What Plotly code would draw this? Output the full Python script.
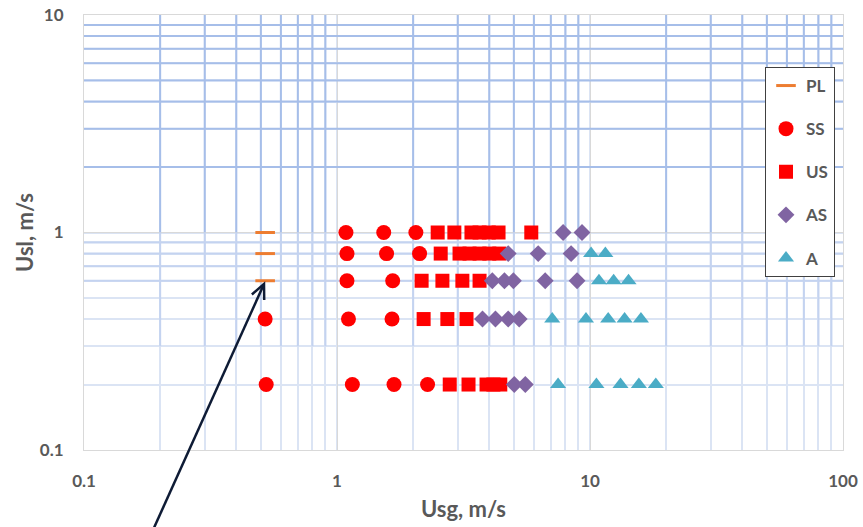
import plotly.graph_objects as go
import numpy as np

# ---------------- data ----------------
pl_x = [0.52, 0.52, 0.52]
pl_y = [1.0, 0.8, 0.6]

ss_x = [1.085, 1.53, 2.05, 1.095, 1.57, 2.12, 1.095, 1.66, 0.52, 1.11, 1.65, 0.525, 1.15, 1.68, 2.28]
ss_y = [1.0, 1.0, 1.0, 0.8, 0.8, 0.8, 0.6, 0.6, 0.4, 0.4, 0.4, 0.2, 0.2, 0.2, 0.2]

us_x = [2.50, 2.91, 3.40, 3.66, 3.98, 4.35, 5.86,
        2.57, 3.05, 3.34, 3.66, 4.0, 4.38,
        2.16, 2.61, 3.13, 3.66,
        2.20, 2.73, 3.25,
        2.79, 3.31, 3.9, 4.15, 4.42]
us_y = [1.0] * 7 + [0.8] * 6 + [0.6] * 4 + [0.4] * 3 + [0.2] * 5

as_x = [7.83, 9.3,
        4.75, 6.24, 8.42,
        4.11, 4.59, 4.98, 6.65, 8.89,
        3.76, 4.23, 4.75, 5.25,
        5.02, 5.55]
as_y = [1.0] * 2 + [0.8] * 3 + [0.6] * 5 + [0.4] * 4 + [0.2] * 2

a_x = [10.1, 11.5,
       10.85, 12.4, 14.2,
       7.09, 9.64, 11.8, 13.7, 15.9,
       7.48, 10.6, 13.2, 15.6, 18.2]
a_y = [0.8] * 2 + [0.6] * 3 + [0.4] * 5 + [0.2] * 5

x_ticks = [0.1, 1, 10, 100]
x_ticklabels = ["0.1", "1", "10", "100"]
y_ticks = [0.1, 1, 10]
y_ticklabels = ["0.1", "1", "10"]

# ---------------- layout constants ----------------
W, H = 863, 527
ML, MR, MT, MB = 84, 20, 15, 77
PW, PH = W - ML - MR, H - MT - MB
FONT = "Lato"
GRAY = "#595959"

fig = go.Figure()

fig.add_trace(go.Scatter(x=pl_x, y=pl_y, mode="markers", name="PL", legendgroup="1",
                         marker=dict(symbol="line-ew", size=14, color="#ed7d31",
                                     line=dict(width=3, color="#ed7d31"))))
fig.add_trace(go.Scatter(x=ss_x, y=ss_y, mode="markers", name="SS", legendgroup="2",
                         marker=dict(symbol="circle", size=15, color="#ff0000")))
fig.add_trace(go.Scatter(x=us_x, y=us_y, mode="markers", name="US", legendgroup="3",
                         marker=dict(symbol="square", size=14, color="#ff0000")))
fig.add_trace(go.Scatter(x=as_x, y=as_y, mode="markers", name="AS", legendgroup="4",
                         marker=dict(symbol="diamond", size=13, color="#8064a2")))
fig.add_trace(go.Scatter(x=a_x, y=a_y, mode="markers", name="A", legendgroup="5",
                         marker=dict(symbol="triangle-up", size=14, color="#4bacc6")))

# ---- darker gridline overlays (upper part of the chart) ----
shapes = []
minor_x = [m * 10.0 ** e for e in (-1, 0, 1) for m in range(2, 10)]
DARK = "#a6bee9"
MED = "#c4d3f0"
for xv in minor_x:
    shapes.append(dict(type="line", xref="x", yref="y", x0=xv, x1=xv, y0=1, y1=10,
                       line=dict(color=DARK, width=2), layer="between"))
    shapes.append(dict(type="line", xref="x", yref="y", x0=xv, x1=xv, y0=0.3, y1=1,
                       line=dict(color=MED, width=2), layer="between"))
for m in range(2, 10):
    shapes.append(dict(type="line", xref="x", yref="y", x0=0.1, x1=100, y0=m, y1=m,
                       line=dict(color=DARK, width=2), layer="between"))
for yv in (0.6, 0.7, 0.8, 0.9):
    shapes.append(dict(type="line", xref="x", yref="y", x0=0.1, x1=100, y0=yv, y1=yv,
                       line=dict(color=MED, width=2), layer="between"))


# ---- arrow (pixel helper -> paper) ----
def px2paper(px, py):
    return (px - ML) / PW, (H - MB - py) / PH


tip = np.array([264.0, 284.0])
tail = np.array([153.0, 530.0])
d = tip - tail
d = d / np.linalg.norm(d)
r = -d
L = 16
ang = np.deg2rad(25)
rot = lambda v, a: np.array([v[0] * np.cos(a) - v[1] * np.sin(a), v[0] * np.sin(a) + v[1] * np.cos(a)])
w1 = tip + L * rot(r, ang)
w2 = tip + L * rot(r, -ang)
tx, ty = px2paper(*tail)
hx, hy = px2paper(*tip)
shapes.append(dict(type="line", xref="paper", yref="paper", x0=tx, y0=ty, x1=hx, y1=hy,
                   line=dict(color="#0e1b35", width=2.5), layer="above"))
p1 = px2paper(*w1)
p2 = px2paper(*w2)
shapes.append(dict(type="path", xref="paper", yref="paper",
                   path=f"M {p1[0]} {p1[1]} L {hx} {hy} L {p2[0]} {p2[1]}",
                   line=dict(color="#0e1b35", width=2.5), layer="above"))

axis_common = dict(
    type="log", automargin=False,
    showline=True, linecolor="#d9d9d9", linewidth=1, mirror=True,
    showgrid=True, gridcolor="#d9d9d9", gridwidth=1,
    ticks="", zeroline=False,
    tickfont=dict(family=FONT, size=17, color=GRAY, weight="bold"),
    minor=dict(showgrid=True, gridcolor="#dbe4f4", gridwidth=2, ticks="",
               dtick="D1"),
)

fig.update_layout(
    width=W, height=H,
    margin=dict(l=ML, r=MR, t=MT, b=MB),
    paper_bgcolor="white", plot_bgcolor="white",
    font=dict(family=FONT, color=GRAY),
    xaxis=dict(**axis_common, range=[-1, 2], tickvals=x_ticks, ticktext=x_ticklabels,
               ticklabelstandoff=16,
               title=dict(text="Usg, m/s", font=dict(family=FONT, size=22, color=GRAY, weight="bold"),
                          standoff=11)),
    yaxis=dict(**axis_common, range=[-1, 1], tickvals=y_ticks, ticktext=y_ticklabels,
               ticklabelstandoff=16,
               title=dict(text="Usl, m/s", font=dict(family=FONT, size=22, color=GRAY, weight="bold"),
                          standoff=0)),
    legend=dict(x=(765 - ML) / PW, y=(H - MB - 67) / PH, xanchor="left", yanchor="top",
                bgcolor="white", bordercolor="#404040", borderwidth=1,
                font=dict(family=FONT, size=17, color=GRAY, weight="bold"),
                tracegroupgap=18, traceorder="grouped", itemwidth=30),
    shapes=shapes,
    showlegend=True,
)

fig.write_html("out.html")
